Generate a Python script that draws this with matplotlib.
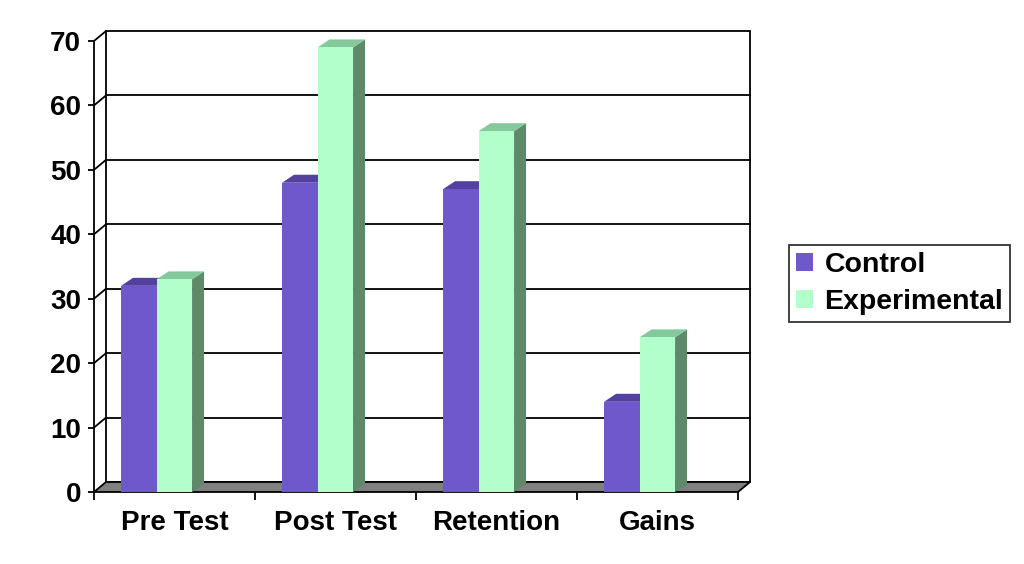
import matplotlib
matplotlib.use('Agg')
import matplotlib.pyplot as plt
from matplotlib.patches import Polygon, Patch
from matplotlib.lines import Line2D

categories = ['Pre Test', 'Post Test', 'Retention', 'Gains']
control = [32, 48, 47, 14]
experimental = [33, 69, 56, 24]
series_names = ['Control', 'Experimental']
yticks = [0, 10, 20, 30, 40, 50, 60, 70]

plt.rcParams['font.family'] = ['Liberation Sans', 'DejaVu Sans']
plt.rcParams['font.weight'] = 'bold'

W, H = 1024, 564
fig = plt.figure(figsize=(W / 100, H / 100), dpi=100)
x0p, x1p = 94, 738
y0p, y1p = 492, 41
ax = fig.add_axes([x0p / W, 1 - y0p / H, (x1p - x0p) / W, (y0p - y1p) / H])
ncat = len(categories)
ymax = yticks[-1]
ax.set_xlim(0, ncat)
ax.set_ylim(0, ymax)
ax.set_facecolor('none')
for s in ax.spines.values():
    s.set_visible(False)

sx = (x1p - x0p) / ncat
sy = (y0p - y1p) / ymax
wdx, wdy = 12 / sx, 10 / sy   # wall depth in data units
bdx, bdy = 12 / sx, 8 / sy    # bar depth in data units

LW = 1.3
# back wall
ax.add_patch(Polygon([(wdx, wdy), (ncat + wdx, wdy), (ncat + wdx, ymax + wdy), (wdx, ymax + wdy)],
                     closed=True, facecolor='white', edgecolor='black', lw=LW, zorder=1, clip_on=False))
for t in yticks[1:-1]:
    ax.add_line(Line2D([wdx, ncat + wdx], [t + wdy, t + wdy], color='black', lw=LW, zorder=2, clip_on=False))
for t in yticks[1:]:
    ax.add_line(Line2D([0, wdx], [t, t + wdy], color='black', lw=LW, zorder=2, clip_on=False))
ax.add_line(Line2D([0, 0], [0, ymax], color='black', lw=LW, zorder=2, clip_on=False))
# floor
ax.add_patch(Polygon([(0, 0), (ncat, 0), (ncat + wdx, wdy), (wdx, wdy)], closed=True,
                     facecolor='#808080', edgecolor='black', lw=LW, zorder=3, clip_on=False))

off = 0.168
bw = 0.2205
colors = {
    'Control': ('#6F57CC', '#5440A0', '#4A3890'),
    'Experimental': ('#B3FFCC', '#84C99B', '#5E8A6A'),
}
z = 4
for i in range(ncat):
    for k, (name, vals) in enumerate(zip(series_names, [control, experimental])):
        v = vals[i]
        xa = i + off + k * bw
        xb = xa + bw
        front, top, side = colors[name]
        ax.add_patch(Polygon([(xb, 0), (xb + bdx, bdy), (xb + bdx, v + bdy), (xb, v)], closed=True,
                             facecolor=side, edgecolor='none', zorder=z, clip_on=False))
        ax.add_patch(Polygon([(xa, v), (xb, v), (xb + bdx, v + bdy), (xa + bdx, v + bdy)], closed=True,
                             facecolor=top, edgecolor='none', zorder=z, clip_on=False))
        ax.add_patch(Polygon([(xa, 0), (xb, 0), (xb, v), (xa, v)], closed=True,
                             facecolor=front, edgecolor='none', zorder=z, clip_on=False))
        z += 1

ax.set_yticks(yticks)
ax.set_yticklabels([str(t) for t in yticks], fontsize=20, fontweight='bold')
ax.tick_params(axis='y', length=6 * 0.72, width=LW, pad=5)
ax.set_xticks(range(ncat + 1))
ax.set_xticklabels([''] * (ncat + 1))
ax.set_xticks([i + 0.5 for i in range(ncat)], minor=True)
ax.set_xticklabels(categories, minor=True, fontsize=20, fontweight='bold')
ax.tick_params(axis='x', which='major', length=8 * 0.72, width=LW)
ax.tick_params(axis='x', which='minor', length=0, pad=13)

handles = [Patch(facecolor=colors[n][0], edgecolor='none') for n in series_names]
leg = fig.legend(handles, series_names, loc='upper left', bbox_to_anchor=(789 / W, 1 - 245 / H),
                 frameon=True, fancybox=False, edgecolor='black',
                 handlelength=0.6, handleheight=0.6, handletextpad=0.4, labelspacing=0.38,
                 borderpad=0.25, borderaxespad=0, prop={'weight': 'bold', 'size': 20.5})
leg.get_frame().set_linewidth(LW)

fig.savefig('out.png', dpi=100)
